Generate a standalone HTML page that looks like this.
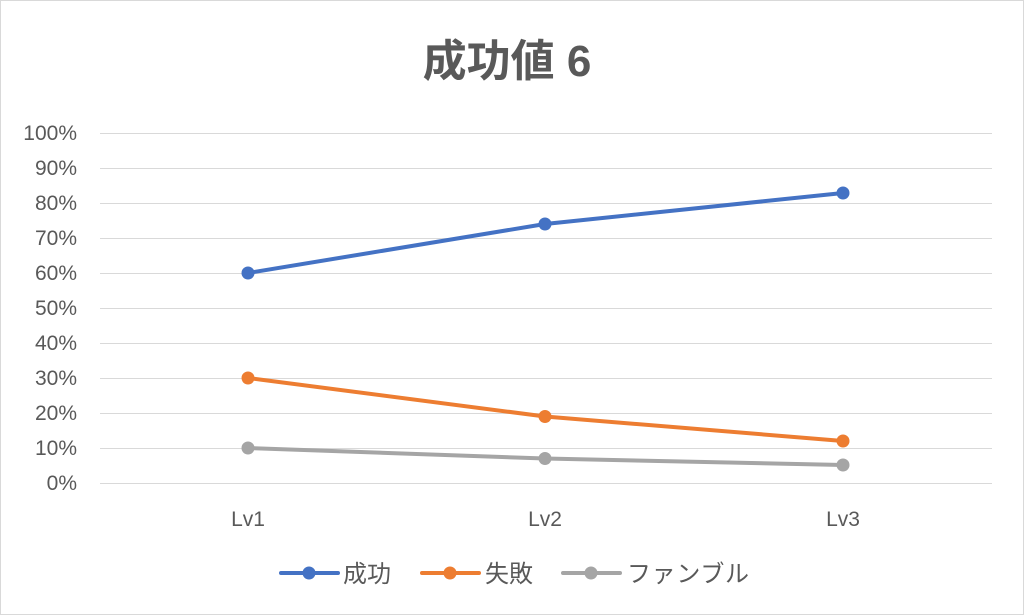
<!DOCTYPE html>
<html><head><meta charset="utf-8"><style>
html,body{margin:0;padding:0;background:#fff}
svg{display:block}
text{font-family:"Liberation Sans","Noto Sans CJK JP",sans-serif;fill:#595959}
</style></head><body>
<svg width="1024" height="615" viewBox="0 0 1024 615">
<rect x="0.5" y="0.5" width="1023" height="614" fill="#fff" stroke="#d9d9d9"/>
<text x="507" y="76" font-size="44" font-weight="bold" text-anchor="middle">成功値 6</text>
<g stroke="#d9d9d9" stroke-width="1">
<line x1="100" x2="992" y1="133.5" y2="133.5"/><line x1="100" x2="992" y1="168.5" y2="168.5"/>
<line x1="100" x2="992" y1="203.5" y2="203.5"/><line x1="100" x2="992" y1="238.5" y2="238.5"/>
<line x1="100" x2="992" y1="273.5" y2="273.5"/><line x1="100" x2="992" y1="308.5" y2="308.5"/>
<line x1="100" x2="992" y1="343.5" y2="343.5"/><line x1="100" x2="992" y1="378.5" y2="378.5"/>
<line x1="100" x2="992" y1="413.5" y2="413.5"/><line x1="100" x2="992" y1="448.5" y2="448.5"/>
<line x1="100" x2="992" y1="483.5" y2="483.5"/>
</g>
<g font-size="21" text-anchor="end">
<text x="77" y="140">100%</text><text x="77" y="175">90%</text><text x="77" y="210">80%</text>
<text x="77" y="245">70%</text><text x="77" y="280">60%</text><text x="77" y="315">50%</text>
<text x="77" y="350">40%</text><text x="77" y="385">30%</text><text x="77" y="420">20%</text>
<text x="77" y="455">10%</text><text x="77" y="490">0%</text>
</g>
<g font-size="21" text-anchor="middle">
<text x="248" y="526">Lv1</text><text x="545" y="526">Lv2</text><text x="843" y="526">Lv3</text>
</g>
<polyline points="248,448 545,458.5 843,465" fill="none" stroke="#a5a5a5" stroke-width="4" stroke-linecap="round"/>
<polyline points="248,378 545,416.5 843,441" fill="none" stroke="#ed7d31" stroke-width="4" stroke-linecap="round"/>
<polyline points="248,273 545,224 843,193" fill="none" stroke="#4472c4" stroke-width="4" stroke-linecap="round"/>
<g fill="#a5a5a5"><circle cx="248" cy="448" r="6.5"/><circle cx="545" cy="458.5" r="6.5"/><circle cx="843" cy="465" r="6.5"/></g>
<g fill="#ed7d31"><circle cx="248" cy="378" r="6.5"/><circle cx="545" cy="416.5" r="6.5"/><circle cx="843" cy="441" r="6.5"/></g>
<g fill="#4472c4"><circle cx="248" cy="273" r="6.5"/><circle cx="545" cy="224" r="6.5"/><circle cx="843" cy="193" r="6.5"/></g>
<line x1="281" x2="338" y1="573" y2="573" stroke="#4472c4" stroke-width="4" stroke-linecap="round"/>
<circle cx="309" cy="573" r="6.5" fill="#4472c4"/>
<text x="343" y="582" font-size="24">成功</text>
<line x1="422" x2="479" y1="573" y2="573" stroke="#ed7d31" stroke-width="4" stroke-linecap="round"/>
<circle cx="450" cy="573" r="6.5" fill="#ed7d31"/>
<text x="485" y="582" font-size="24">失敗</text>
<line x1="563" x2="620" y1="573" y2="573" stroke="#a5a5a5" stroke-width="4" stroke-linecap="round"/>
<circle cx="591" cy="573" r="6.5" fill="#a5a5a5"/>
<text x="627" y="582" font-size="24" textLength="122">ファンブル</text>
</svg>
</body></html>
